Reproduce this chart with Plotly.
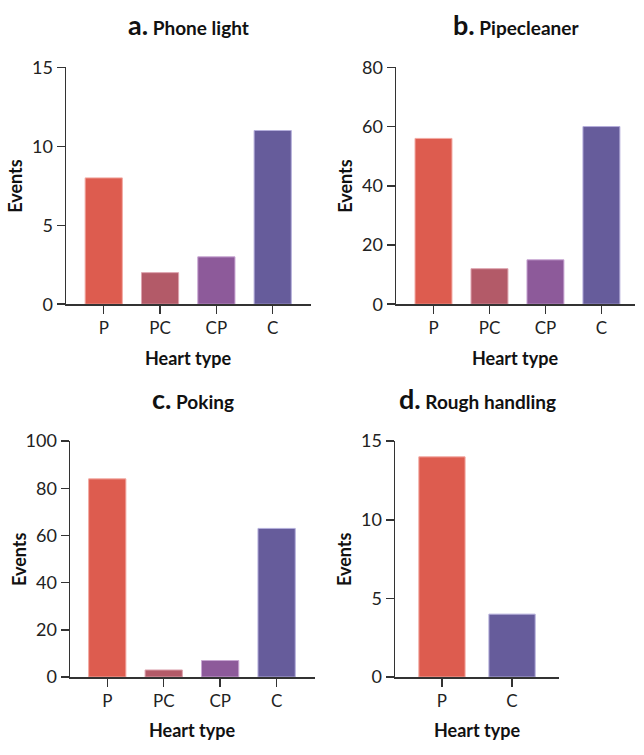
import plotly.graph_objects as go

W, H = 644, 755

# Data
cats4 = ["P", "PC", "CP", "C"]
cats2 = ["P", "C"]
phone_light = [8, 2, 3, 11]
pipecleaner = [56, 12, 15, 60]
poking = [84, 3, 7, 63]
rough_handling = [14, 4]

colors4 = ["#DD5C4F", "#B35A68", "#8D5A9A", "#665C9B"]
edges4 = ["#F2A9A2", "#DDA3AE", "#C9A6D3", "#B4AEDB"]
colors2 = ["#DD5C4F", "#665C9B"]
edges2 = ["#F2A9A2", "#B4AEDB"]

panels = [
    dict(letter="a.", name="Phone light", cats=cats4, vals=phone_light, col=colors4, edge=edges4,
         px=(66, 311), py=(57, 301), yr=15, dt=5, xr=(-0.67, 3.68), ty=13),
    dict(letter="b.", name="Pipecleaner", cats=cats4, vals=pipecleaner, col=colors4, edge=edges4,
         px=(396, 635), py=(57, 301), yr=80, dt=20, xr=(-0.67, 3.6), ty=13),
    dict(letter="c.", name="Poking", cats=cats4, vals=poking, col=colors4, edge=edges4,
         px=(70, 315), py=(442, 685), yr=100, dt=20, xr=(-0.66, 3.68), ty=398),
    dict(letter="d.", name="Rough handling", cats=cats2, vals=rough_handling, col=colors2, edge=edges2,
         px=(395, 559), py=(442, 685), yr=15, dt=5, xr=(-0.67, 1.67), ty=398),
]

FONT = "Lato"
AX = "#333333"


def fx(px):
    return px / W


def fy(py):
    return 1 - py / H


fig = go.Figure()
annotations = []
layout = {}
for i, p in enumerate(panels):
    n = "" if i == 0 else str(i + 1)
    fig.add_trace(go.Bar(
        x=p["cats"], y=p["vals"],
        marker=dict(color=p["col"], line=dict(color=p["edge"], width=1)),
        width=0.66, xaxis="x" + n, yaxis="y" + n, showlegend=False,
    ))
    x0, x1 = p["px"]
    y0, y1 = p["py"]
    layout["xaxis" + n] = dict(
        domain=[fx(x0), fx(x1)], range=list(p["xr"]), anchor="y" + n,
        showline=True, linecolor=AX, linewidth=1.5, ticks="outside", ticklen=8,
        tickwidth=1.5, tickcolor=AX, showgrid=False, zeroline=False,
        tickfont=dict(family=FONT, size=17, color="#222"), fixedrange=True,
    )
    layout["yaxis" + n] = dict(
        domain=[fy(y1), fy(y0)], range=[0, p["yr"]], anchor="x" + n,
        showline=True, linecolor=AX, linewidth=1.5, ticks="outside", ticklen=8,
        tickwidth=1.5, tickcolor=AX, showgrid=False, zeroline=False,
        tick0=0, dtick=p["dt"], tickfont=dict(family=FONT, size=18, color="#222"),
        fixedrange=True,
    )
    cx = fx((x0 + x1) / 2)
    cy = (y0 + y1) / 2
    annotations.append(dict(
        text="<b><span style='font-size:27px'>%s</span> %s</b>" % (p["letter"], p["name"]),
        x=cx, y=fy(p["ty"]), xref="paper", yref="paper", showarrow=False,
        font=dict(family=FONT, size=19, color="#111"), xanchor="center", yanchor="middle",
    ))
    annotations.append(dict(
        text="<b>Heart type</b>", x=cx, y=fy(y1 + 55), xref="paper", yref="paper",
        showarrow=False, font=dict(family=FONT, size=18, color="#111"),
        xanchor="center", yanchor="middle",
    ))
    annotations.append(dict(
        text="<b>Events</b>", x=fx(x0 - 51), y=fy(cy), xref="paper", yref="paper",
        showarrow=False, textangle=-90, font=dict(family=FONT, size=18, color="#111"),
        xanchor="center", yanchor="middle",
    ))

fig.update_layout(
    width=W, height=H, margin=dict(l=0, r=0, t=0, b=0),
    plot_bgcolor="white", paper_bgcolor="white", hovermode=False,
    annotations=annotations, **layout,
)
fig.write_html("out.html", config={"displayModeBar": False, "staticPlot": True},
               post_script="document.body.style.margin='0';")
